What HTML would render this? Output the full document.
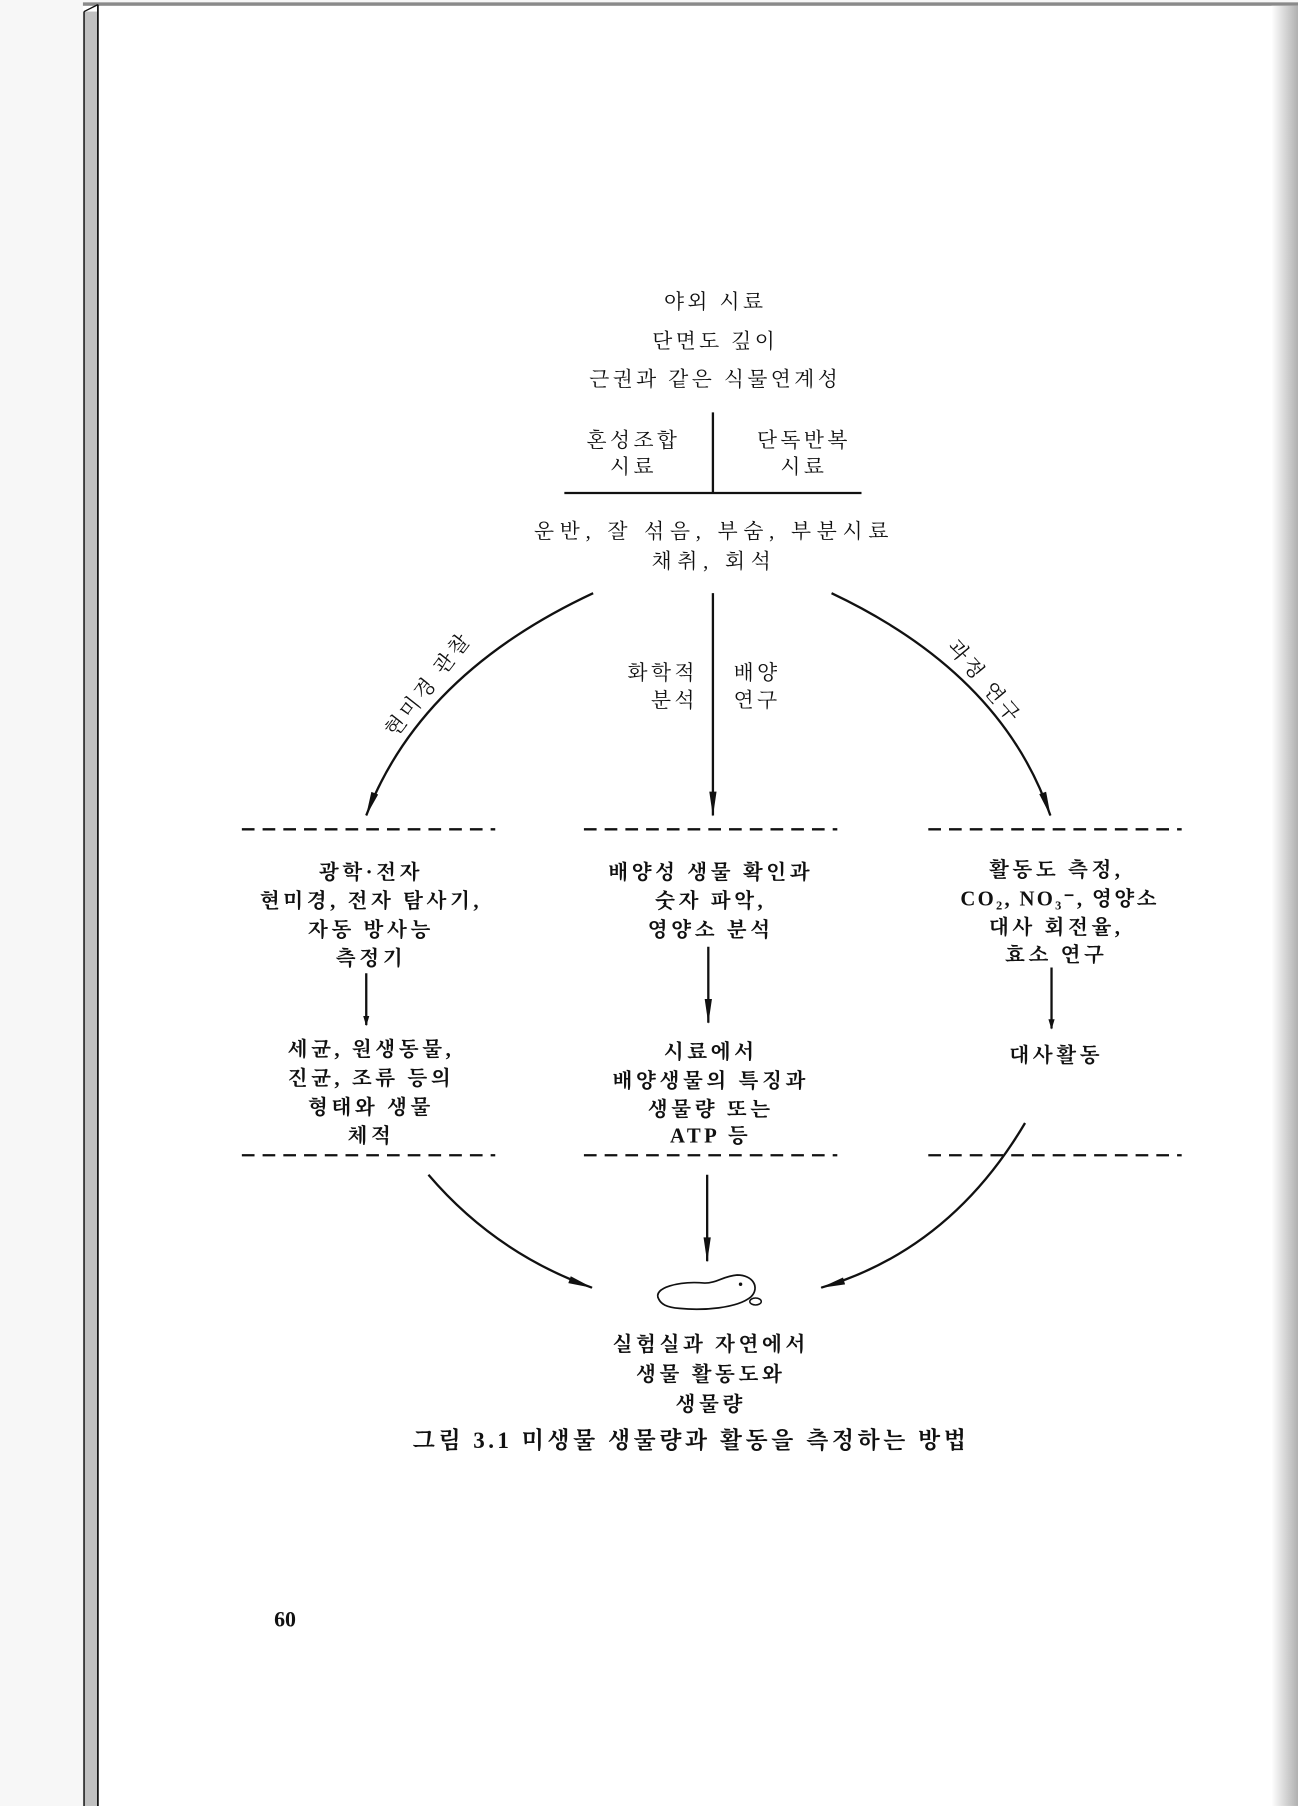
<!DOCTYPE html>
<html><head><meta charset="utf-8">
<style>
html,body{margin:0;padding:0;background:#f7f7f7;}
svg{display:block;}
text{font-family:"Liberation Serif","Noto Serif CJK KR","Noto Serif CJK SC",serif;fill:#111;letter-spacing:3px;}
</style></head>
<body>
<svg width="1298" height="1806" viewBox="0 0 1127 1568" xmlns="http://www.w3.org/2000/svg">
<defs>
<linearGradient id="rs" x1="0" x2="1" y1="0" y2="0">
<stop offset="0" stop-color="#ffffff"/><stop offset="1" stop-color="#b0b0b0"/>
</linearGradient>
<marker id="ah" viewBox="0 0 10 10" refX="9" refY="5" markerWidth="9" markerHeight="9" markerUnits="userSpaceOnUse" orient="auto">
<path d="M0,2 L10,5 L0,8 z" fill="#111"/>
</marker>
<marker id="ahL" viewBox="0 0 24 10" refX="23" refY="5" markerWidth="22" markerHeight="9" markerUnits="userSpaceOnUse" orient="auto">
<path d="M0,1.5 L24,5 L0,8.5 z" fill="#111"/>
</marker>
</defs>
<rect x="72" y="2" width="1055" height="1566" fill="#ffffff"/>
<rect x="72" y="2" width="1055" height="3" fill="#8a8a8a"/>
<rect x="72" y="10" width="13" height="1558" fill="#c0c0c0"/>
<line x1="73" y1="10" x2="73" y2="1568" stroke="#111" stroke-width="1.2"/>
<line x1="85" y1="4" x2="85" y2="1568" stroke="#111" stroke-width="1.5"/>
<line x1="73" y1="10" x2="85" y2="4" stroke="#111" stroke-width="1.2"/>
<rect x="1104" y="5" width="23" height="1563" fill="url(#rs)"/>

<g font-size="18" text-anchor="middle">
<text x="621" y="268">야외 시료</text>
<text x="621" y="302">단면도 깊이</text>
<text x="621" y="335">근권과 같은 식물연계성</text>
<text x="550" y="388">혼성조합</text>
<text x="550" y="411">시료</text>
<text x="698" y="388">단독반복</text>
<text x="698" y="411">시료</text>
<text x="620" y="467" style="letter-spacing:5px">운반, 잘 섞음, 부숨, 부분시료</text>
<text x="620" y="493" style="letter-spacing:5px">채취, 회석</text>
</g>
<line x1="619" y1="358" x2="619" y2="428" stroke="#111" stroke-width="2"/>
<line x1="490" y1="428" x2="748" y2="428" stroke="#111" stroke-width="2"/>

<path d="M515,515 Q365,585 318,708" fill="none" stroke="#111" stroke-width="2" marker-end="url(#ahL)"/>
<line x1="619" y1="515" x2="619" y2="708" stroke="#111" stroke-width="2" marker-end="url(#ahL)"/>
<path d="M722,515 Q870,585 912,708" fill="none" stroke="#111" stroke-width="2" marker-end="url(#ahL)"/>
<text x="372" y="600" font-size="18" text-anchor="middle" transform="rotate(-52 372 594)">현미경 관찰</text>
<text x="855" y="598" font-size="18" text-anchor="middle" transform="rotate(50 855 592)">과정 연구</text>
<g font-size="18">
<text x="606" y="590" text-anchor="end">화학적</text>
<text x="606" y="614" text-anchor="end">분석</text>
<text x="637" y="590">배양</text>
<text x="637" y="614">연구</text>
</g>

<g stroke="#111" stroke-width="2" stroke-dasharray="11,7">
<line x1="210" y1="720" x2="430" y2="720"/>
<line x1="507" y1="720" x2="727" y2="720"/>
<line x1="806" y1="720" x2="1026" y2="720"/>
<line x1="210" y1="1003" x2="430" y2="1003"/>
<line x1="507" y1="1003" x2="727" y2="1003"/>
<line x1="806" y1="1003" x2="1026" y2="1003"/>
</g>

<g font-size="18" text-anchor="middle" font-weight="bold">
<text x="322" y="763">광학·전자</text>
<text x="322" y="788">현미경, 전자 탐사기,</text>
<text x="322" y="813">자동 방사능</text>
<text x="322" y="838">측정기</text>
<text x="322" y="917">세균, 원생동물,</text>
<text x="322" y="942">진균, 조류 등의</text>
<text x="322" y="967">형태와 생물</text>
<text x="322" y="992">체적</text>

<text x="617" y="763">배양성 생물 확인과</text>
<text x="617" y="788">숫자 파악,</text>
<text x="617" y="813">영양소 분석</text>
<text x="617" y="919">시료에서</text>
<text x="617" y="944">배양생물의 특징과</text>
<text x="617" y="969">생물량 또는</text>
<text x="617" y="992">ATP 등</text>

<text x="917" y="761">활동도 측정,</text>
<text x="920" y="786" style="letter-spacing:2px">CO₂, NO₃⁻, 영양소</text>
<text x="917" y="811">대사 회전율,</text>
<text x="917" y="835">효소 연구</text>
<text x="917" y="922">대사활동</text>
</g>
<line x1="318" y1="845" x2="318" y2="890" stroke="#111" stroke-width="2" marker-end="url(#ah)"/>
<line x1="615" y1="822" x2="615" y2="888" stroke="#111" stroke-width="2" marker-end="url(#ahL)"/>
<line x1="913" y1="840" x2="913" y2="893" stroke="#111" stroke-width="2" marker-end="url(#ah)"/>

<path d="M372,1020 Q430,1088 514,1118" fill="none" stroke="#111" stroke-width="2" marker-end="url(#ahL)"/>
<line x1="614" y1="1020" x2="614" y2="1095" stroke="#111" stroke-width="2" marker-end="url(#ahL)"/>
<path d="M890,975 Q825,1085 713,1118" fill="none" stroke="#111" stroke-width="2" marker-end="url(#ahL)"/>

<path d="M572,1128 C566,1118 590,1112 612,1114 C622,1114 628,1108 640,1107 C654,1107 660,1118 652,1126 C640,1136 610,1138 590,1136 C578,1135 574,1132 572,1128 z" fill="none" stroke="#111" stroke-width="1.5"/>
<circle cx="643" cy="1115" r="1.5" fill="#111"/>
<ellipse cx="656" cy="1130" rx="5" ry="3" fill="none" stroke="#111" stroke-width="1.3"/>

<g font-size="18" text-anchor="middle" font-weight="bold">
<text x="617" y="1173">실험실과 자연에서</text>
<text x="617" y="1199">생물 활동도와</text>
<text x="617" y="1225">생물량</text>
</g>
<text x="600" y="1257" font-size="20" text-anchor="middle" font-weight="bold">그림 3.1   미생물 생물량과 활동을 측정하는 방법</text>
<text x="238" y="1412" font-size="19" font-weight="bold" font-family="Liberation Sans, sans-serif" style="letter-spacing:0">60</text>
</svg>
</body></html>
